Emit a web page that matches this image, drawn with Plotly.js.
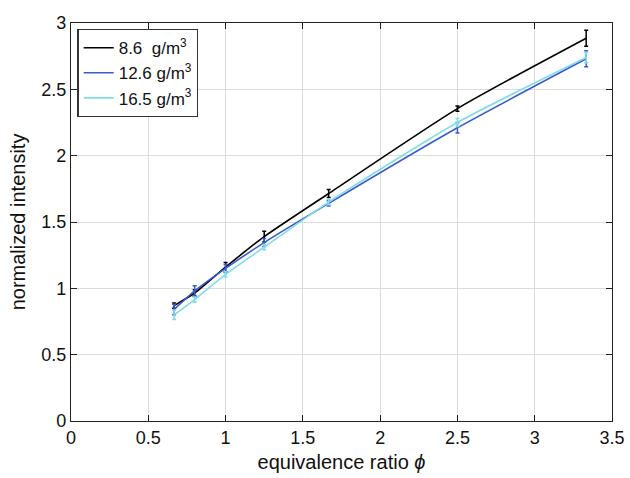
<!DOCTYPE html>
<html><head><meta charset="utf-8">
<script src="https://cdn.plot.ly/plotly-3.0.1.min.js"></script>
<style>body{margin:0;background:#fff}#chart{width:630px;height:478px}</style>
</head><body><div id="chart"></div>
<script>
const phi = [0.667, 0.8, 1.0, 1.25, 1.667, 2.5, 3.333];
const names = ['8.6  g/m<sup>3</sup>', '12.6 g/m<sup>3</sup>', '16.5 g/m<sup>3</sup>'];
const i86 = [0.87, 0.965, 1.16, 1.39, 1.715, 2.355, 2.885];
const i126 = [0.84, 0.98, 1.15, 1.345, 1.64, 2.21, 2.73];
const i165 = [0.80, 0.915, 1.105, 1.31, 1.65, 2.25, 2.74];
const e86 = [0.02, 0.025, 0.035, 0.04, 0.03, 0.02, 0.06];
const e126 = [0.04, 0.04, 0.03, 0.03, 0.02, 0.04, 0.06];
const e165 = [0.035, 0.02, 0.02, 0.02, 0.02, 0.03, 0.04];
const colors = ['#000000', '#3a5bd0', '#7fdde8'];
const ys = [i86, i126, i165], es = [e86, e126, e165];
const F = 'Liberation Sans, Arial';
const traces = ys.map((y, k) => ({
  x: phi, y: y, name: names[k], mode: 'lines', type: 'scatter',
  line: {color: colors[k], width: 1.6, shape: 'spline', smoothing: 0.6},
  error_y: {type: 'data', array: es[k], visible: true, color: colors[k], thickness: 1.5, width: 2}
}));
const ax = {
  showline: true, linecolor: '#222', linewidth: 1.2, mirror: 'ticks',
  ticks: 'inside', ticklen: 6, tickcolor: '#222', showgrid: true, gridcolor: '#dcdcdc', gridwidth: 1,
  zeroline: false, tickfont: {family: F, size: 18, color: '#111'}
};
const layout = {
  width: 630, height: 478,
  margin: {l: 71, r: 18, t: 23, b: 57},
  paper_bgcolor: '#fff', plot_bgcolor: '#fff',
  xaxis: Object.assign({}, ax, {range: [0, 3.5], tickvals: [0,0.5,1,1.5,2,2.5,3,3.5],
    ticktext: ['0','0.5','1','1.5','2','2.5','3','3.5'],
    title: {text: 'equivalence ratio <i>ϕ</i>', font: {family: F, size: 20, color: '#111'}, standoff: 8}}),
  yaxis: Object.assign({}, ax, {range: [0, 3], tickvals: [0,0.5,1,1.5,2,2.5,3],
    ticktext: ['0','0.5','1','1.5','2','2.5','3'],
    title: {text: 'normalized intensity', font: {family: F, size: 20, color: '#111'}, standoff: 10}}),
  legend: {x: 0.012, y: 0.985, xanchor: 'left', yanchor: 'top', bgcolor: '#fff', bordercolor: '#333', borderwidth: 1.2,
    font: {family: F, size: 17, color: '#111'}, itemwidth: 30, tracegroupgap: 0},
  showlegend: true
};
Plotly.newPlot('chart', traces, layout, {displayModeBar: false, staticPlot: true});
</script></body></html>
